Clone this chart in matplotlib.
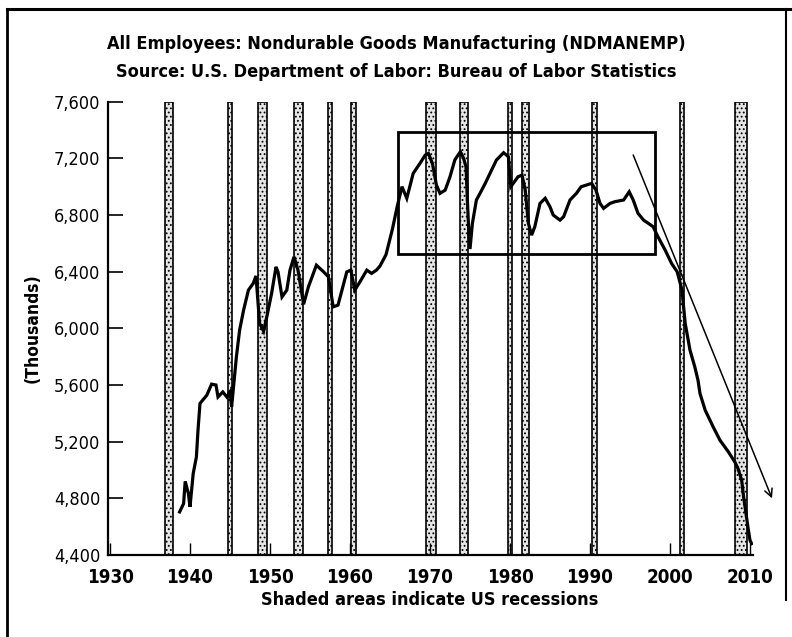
import matplotlib
matplotlib.use("Agg")
import matplotlib.pyplot as plt
from matplotlib.patches import Rectangle
from matplotlib.lines import Line2D
from matplotlib import font_manager

# monthly-ish series (thousands of employees)
years = [1938.7, 1939.2, 1939.4, 1939.8, 1940.0, 1940.4, 1940.8, 1941.0, 1941.25, 1942.1,
         1942.7, 1943.25, 1943.5, 1944.1, 1944.6, 1945.0, 1945.2, 1945.4, 1945.8, 1946.2,
         1946.7, 1947.3, 1947.9, 1948.25, 1948.7, 1949.2, 1949.6, 1950.2, 1950.75, 1951.0,
         1951.5, 1952.1, 1952.5, 1953.0, 1953.5, 1954.2, 1954.8, 1955.8, 1956.7, 1957.3,
         1957.9, 1958.5, 1959.6, 1960.1, 1960.6, 1961.25, 1962.1, 1962.7, 1963.3, 1963.75,
         1964.5, 1965.3, 1965.9, 1966.5, 1967.1, 1967.9, 1968.75, 1969.4, 1969.8, 1970.3,
         1970.8, 1971.25, 1971.9, 1972.5, 1973.1, 1973.5, 1973.8, 1974.2, 1974.5, 1974.8,
         1975.0, 1975.3, 1975.8, 1976.25, 1976.9, 1977.5, 1978.3, 1979.2, 1979.8, 1980.1,
         1980.4, 1981.0, 1981.5, 1981.9, 1982.3, 1982.7, 1983.1, 1983.75, 1984.4, 1985.0,
         1985.4, 1986.25, 1986.7, 1987.5, 1988.3, 1988.9, 1989.6, 1990.2, 1990.75, 1991.25,
         1991.7, 1992.5, 1993.1, 1994.2, 1994.9, 1995.4, 1996.0, 1996.7, 1997.3, 1997.9,
         1998.5, 1999.4, 2000.2, 2000.9, 2001.5, 2001.9, 2002.5, 2003.1, 2003.5, 2003.75,
         2004.4, 2005.4, 2006.25, 2007.3, 2008.1, 2008.5, 2008.96, 2009.2, 2009.5, 2009.8,
         2010.0, 2010.2]
employees = [4704, 4763, 4920, 4834, 4740, 4975, 5092, 5281, 5470, 5528,
             5606, 5600, 5516, 5551, 5516, 5551, 5445, 5563, 5799, 5987,
             6129, 6270, 6317, 6370, 6035, 5980, 6081, 6247, 6434, 6399,
             6222, 6270, 6411, 6505, 6411, 6170, 6293, 6446, 6399, 6364,
             6152, 6164, 6399, 6411, 6270, 6329, 6411, 6388, 6411, 6440,
             6520, 6700, 6860, 7000, 6918, 7094, 7165, 7223, 7235, 7165,
             7012, 6953, 6976, 7070, 7188, 7223, 7247, 7200, 7141, 6741,
             6560, 6741, 6906, 6953, 7023, 7094, 7188, 7240, 7212, 7000,
             7023, 7070, 7082, 6976, 6741, 6658, 6717, 6882, 6918, 6858,
             6800, 6764, 6788, 6906, 6953, 7000, 7012, 7023, 6976, 6882,
             6847, 6882, 6894, 6906, 6964, 6906, 6812, 6764, 6741, 6717,
             6646, 6552, 6458, 6399, 6270, 6035, 5846, 5728, 5634, 5540,
             5422, 5304, 5210, 5128, 5057, 5010, 4928, 4810, 4693, 4575,
             4504, 4480]

# shaded recession periods (start, end)
rec_start = [1936.9, 1944.7, 1948.5, 1953.0, 1957.3, 1960.1, 1969.5, 1973.75,
             1979.8, 1981.5, 1990.3, 2001.2, 2008.1]
rec_end = [1937.9, 1945.3, 1949.6, 1954.1, 1957.8, 1960.7, 1970.7, 1974.8,
           1980.3, 1982.4, 1990.9, 2001.75, 2009.6]

xticks = [1930, 1940, 1950, 1960, 1970, 1980, 1990, 2000, 2010]
yticks = [4400, 4800, 5200, 5600, 6000, 6400, 6800, 7200, 7600]
ytick_labels = ["4,400", "4,800", "5,200", "5,600", "6,000", "6,400", "6,800", "7,200", "7,600"]

# highlighted box and trend arrow
box_x = [1966.0, 1998.1]
box_y = [6524, 7386]
arrow_from = (1995.4, 7224)
arrow_to = (2012.75, 4800)

# condensed faces to get close to the narrow newspaper type
cond_bold = font_manager.FontProperties(family="DejaVu Sans", stretch="condensed", weight="bold")
cond_reg = font_manager.FontProperties(family="DejaVu Sans", stretch="condensed")

plt.rcParams["hatch.linewidth"] = 0.8

fig = plt.figure(figsize=(7.92, 6.37), dpi=100)
ax = fig.add_axes([108 / 792, 82 / 637, 645.2 / 792, 453.3 / 637])

for s, e in zip(rec_start, rec_end):
    ax.axvspan(s, e, facecolor="#e6e6e6", edgecolor="black", hatch="....",
               linewidth=1.2, zorder=1)

ax.plot(years, employees, color="black", lw=2.3, zorder=3, solid_joinstyle="miter")

ax.add_patch(Rectangle((box_x[0], box_y[0]), box_x[1] - box_x[0], box_y[1] - box_y[0],
                       fill=False, edgecolor="black", lw=2.0, zorder=4))

ax.annotate("", xy=arrow_to, xytext=arrow_from, annotation_clip=False,
            arrowprops=dict(arrowstyle="->", lw=1.1, color="black",
                            mutation_scale=14, shrinkA=0, shrinkB=0), zorder=5)

ax.set_xlim(1929.75, 2010.4)
ax.set_ylim(4400, 7600)
ax.set_xticks(xticks)
ax.set_xticklabels([str(x) for x in xticks], fontproperties=cond_bold, fontsize=13.5)
ax.set_yticks(yticks)
ax.set_yticklabels(ytick_labels, fontproperties=cond_reg, fontsize=13)
ax.tick_params(axis="y", direction="in", length=11, width=1.2, pad=5.5)
ax.tick_params(axis="x", direction="in", length=9, width=1.0, pad=9.5)

for side in ["top", "right"]:
    ax.spines[side].set_visible(False)
ax.spines["left"].set_linewidth(1.6)
ax.spines["bottom"].set_linewidth(1.6)

ax.set_ylabel("(Thousands)", fontproperties=cond_bold, fontsize=12.5, labelpad=9)

fig.text(0.5, 1 - 44 / 637, "All Employees: Nondurable Goods Manufacturing (NDMANEMP)",
         ha="center", va="center", fontproperties=cond_bold, fontsize=13)
fig.text(0.5, 1 - 72 / 637, "Source: U.S. Department of Labor: Bureau of Labor Statistics",
         ha="center", va="center", fontproperties=cond_bold, fontsize=13)
fig.text(430 / 792, 1 - 600 / 637, "Shaded areas indicate US recessions",
         ha="center", va="center", fontproperties=cond_bold, fontsize=13)

# scanned page frame
fig.add_artist(Line2D([7 / 792, 792 / 792], [1 - 9 / 637, 1 - 9 / 637], color="black", lw=2.2))
fig.add_artist(Line2D([7 / 792, 7 / 792], [1 - 9 / 637, 0], color="black", lw=2.0))
fig.add_artist(Line2D([786 / 792, 786 / 792], [1 - 9 / 637, 1 - 600 / 637], color="black", lw=1.5))

fig.savefig("out.png", dpi=100)
